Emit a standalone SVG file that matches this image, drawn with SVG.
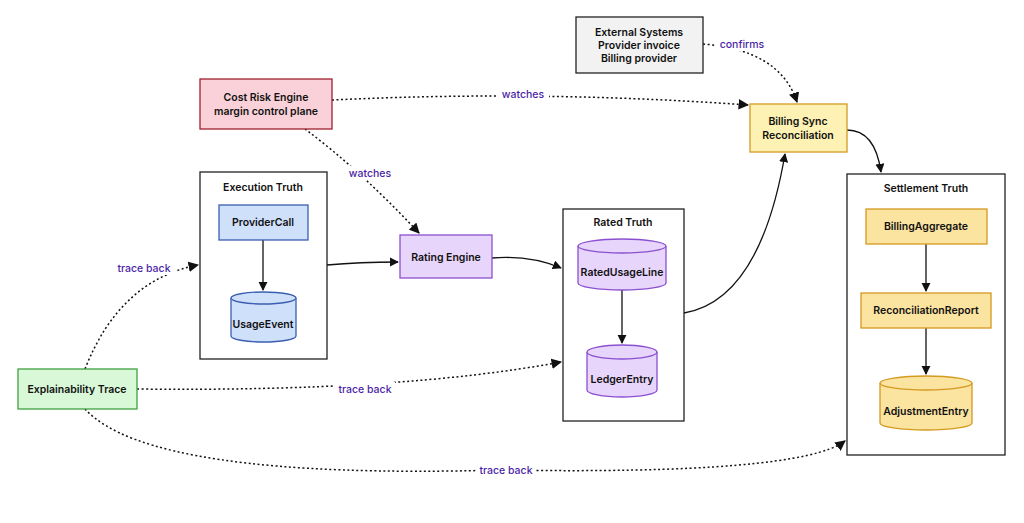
<svg xmlns="http://www.w3.org/2000/svg" width="1024" height="523" viewBox="0 0 1024 523">
<defs>
<marker id="ah" viewBox="0 0 10 10" refX="9" refY="5" markerWidth="7" markerHeight="7" orient="auto-start-reverse"><path d="M0,0 L10,5 L0,10 z" fill="#111"/></marker>
<style>
text{font-family:Inter,"Noto Sans","DejaVu Sans",sans-serif;font-size:10.5px;font-weight:600;fill:#111;text-anchor:middle}
.lbl{fill:#4b1fa8;font-weight:500}
.cl{fill:#fff;stroke:#222;stroke-width:1.3}
.s{fill:none;stroke:#111;stroke-width:1.3}
.d{fill:none;stroke:#111;stroke-width:1.5;stroke-dasharray:2 2.5}
</style>
</defs>
<rect width="1024" height="523" fill="#fff"/>
<g id="clusters">
<g id="execution-truth"><rect class="cl" x="200" y="172" width="127" height="187"/><text x="263" y="191">Execution Truth</text></g>
<g id="rated-truth"><rect class="cl" x="563" y="209" width="121" height="212"/><text x="623" y="226">Rated Truth</text></g>
<g id="settlement-truth"><rect class="cl" x="847" y="174" width="158" height="281"/><text x="926" y="192">Settlement Truth</text></g>
</g>
<g id="connectors">
<path class="s" d="M263,240 V290" marker-end="url(#ah)"/>
<path class="s" d="M327,265 Q360,262 398,262" marker-end="url(#ah)"/>
<path class="s" d="M492,258 Q530,255 561,268" marker-end="url(#ah)"/>
<path class="s" d="M622,290 V343" marker-end="url(#ah)"/>
<path class="s" d="M684,313 Q760,300 785,154" marker-end="url(#ah)"/>
<path class="s" d="M847,130 Q875,130 881,172" marker-end="url(#ah)"/>
<path class="s" d="M926,244 V291" marker-end="url(#ah)"/>
<path class="s" d="M926,328 V374" marker-end="url(#ah)"/>
<path class="d" d="M332,100 Q540,90 748,105" marker-end="url(#ah)"/>
<path class="d" d="M305,129 Q360,170 419,233" marker-end="url(#ah)"/>
<path class="d" d="M703,44 Q780,50 797,102" marker-end="url(#ah)"/>
<path class="d" d="M85,369 Q120,280 198,265" marker-end="url(#ah)"/>
<path class="d" d="M137,389 Q400,392 561,362" marker-end="url(#ah)"/>
<path class="d" d="M85,409 Q150,480 500,470 Q800,475 845,441" marker-end="url(#ah)"/>
<g id="labels">
<rect x="497" y="87" width="52" height="14" fill="#fff"/><text class="lbl" x="523" y="98">watches</text>
<rect x="346" y="166" width="48" height="14" fill="#fff"/><text class="lbl" x="370" y="177">watches</text>
<rect x="716" y="37" width="52" height="14" fill="#fff"/><text class="lbl" x="742" y="48">confirms</text>
<rect x="112" y="261" width="64" height="14" fill="#fff"/><text class="lbl" x="144" y="272">trace back</text>
<rect x="335" y="382" width="60" height="14" fill="#fff"/><text class="lbl" x="365" y="393">trace back</text>
<rect x="476" y="463" width="60" height="14" fill="#fff"/><text class="lbl" x="506" y="474">trace back</text>
</g>
</g>
<g id="external-systems"><rect x="576" y="17" width="127" height="56" fill="#f2f2f2" stroke="#222" stroke-width="1.3"/><text x="639" y="36">External Systems</text><text x="639" y="49">Provider invoice</text><text x="639" y="62">Billing provider</text></g>
<g id="cost-risk-engine"><rect x="200" y="79" width="132" height="50" fill="#fad1d8" stroke="#a02030" stroke-width="1.3"/><text x="266" y="101">Cost Risk Engine</text><text x="266" y="115">margin control plane</text></g>
<g id="billing-sync"><rect x="750" y="104" width="97" height="48" fill="#fdf2b3" stroke="#d49a20" stroke-width="1.3"/><text x="798" y="125">Billing Sync</text><text x="798" y="139">Reconciliation</text></g>
<g id="provider-call"><rect x="219" y="205" width="89" height="35" fill="#cfe0fb" stroke="#3a5fb0" stroke-width="1.3"/><text x="263" y="226">ProviderCall</text></g>
<g id="usage-event"><path d="M231,298 V336 A32.5,6 0 0 0 296,336 V298" fill="#cfe0fb" stroke="#3a5fb0" stroke-width="1.3"/><ellipse cx="263.5" cy="298" rx="32.5" ry="6" fill="#cfe0fb" stroke="#3a5fb0" stroke-width="1.3"/><text x="263" y="328">UsageEvent</text></g>
<g id="rating-engine"><rect x="400" y="235" width="92" height="43" fill="#e8d5fb" stroke="#8a50d0" stroke-width="1.3"/><text x="446" y="261">Rating Engine</text></g>
<g id="rated-usage-line"><path d="M578,246 V283 A44,7 0 0 0 666,283 V246" fill="#e8d5fb" stroke="#8a50d0" stroke-width="1.3"/><ellipse cx="622" cy="246" rx="44" ry="7" fill="#e8d5fb" stroke="#8a50d0" stroke-width="1.3"/><text x="622" y="276">RatedUsageLine</text></g>
<g id="ledger-entry"><path d="M587,352 V390 A35,7 0 0 0 657,390 V352" fill="#e8d5fb" stroke="#8a50d0" stroke-width="1.3"/><ellipse cx="622" cy="352" rx="35" ry="7" fill="#e8d5fb" stroke="#8a50d0" stroke-width="1.3"/><text x="622" y="383">LedgerEntry</text></g>
<g id="billing-aggregate"><rect x="866" y="209" width="121" height="35" fill="#fbe3a0" stroke="#d49a20" stroke-width="1.3"/><text x="926" y="230">BillingAggregate</text></g>
<g id="reconciliation-report"><rect x="861" y="293" width="130" height="35" fill="#fbe3a0" stroke="#d49a20" stroke-width="1.3"/><text x="926" y="314">ReconciliationReport</text></g>
<g id="adjustment-entry"><path d="M880,383 V423 A46,7 0 0 0 972,423 V383" fill="#fbe3a0" stroke="#d49a20" stroke-width="1.3"/><ellipse cx="926" cy="383" rx="46" ry="7" fill="#fbe3a0" stroke="#d49a20" stroke-width="1.3"/><text x="926" y="415">AdjustmentEntry</text></g>
<g id="explainability-trace"><rect x="18" y="369" width="119" height="40" fill="#d8f8d8" stroke="#40a040" stroke-width="1.3"/><text x="77" y="393">Explainability Trace</text></g>
</svg>
